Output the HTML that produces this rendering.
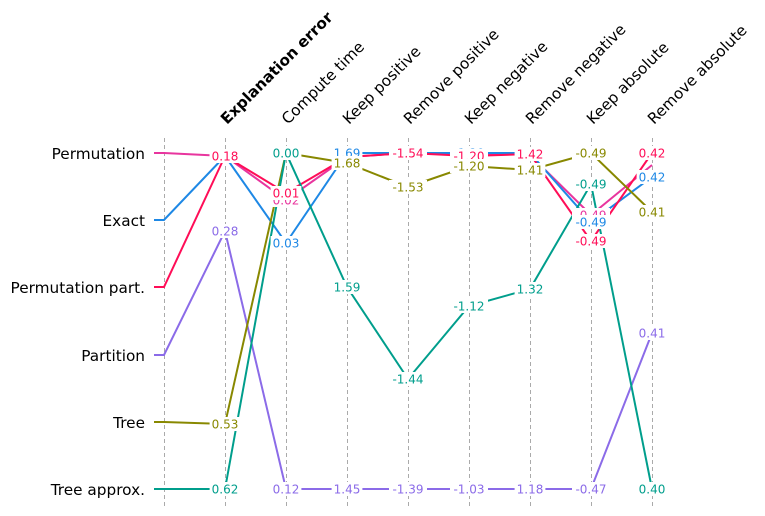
<!DOCTYPE html>
<html><head><meta charset="utf-8">
<style>
html,body{margin:0;padding:0;background:#fff;}
svg{display:block;font-family:"DejaVu Sans","Liberation Sans",sans-serif;}
</style></head>
<body>
<svg id="s" width="765" height="516" xmlns="http://www.w3.org/2000/svg">
<g id="grid" stroke="#aaa" stroke-width="1" stroke-dasharray="4,3"></g>
<g id="lines" fill="none" stroke-width="2"></g>
<g id="labels" font-size="12" text-anchor="middle"></g>
<g font-size="15.3" fill="#000" text-anchor="end">
<text x="145" y="159">Permutation</text>
<text x="145" y="226">Exact</text>
<text x="145" y="293">Permutation part.</text>
<text x="145" y="361">Partition</text>
<text x="145" y="428">Tree</text>
<text x="145" y="495">Tree approx.</text>
</g>
<g id="heads" font-size="15.3" fill="#000"></g>
</svg>
<script>
var X=[164,225,286,347,408,469,530,591,652];
var heads=["Explanation error","Compute time","Keep positive","Remove positive","Keep negative","Remove negative","Keep absolute","Remove absolute"];
var ns="http://www.w3.org/2000/svg";
function el(t,a,p,txt){var e=document.createElementNS(ns,t);for(var k in a)e.setAttribute(k,a[k]);if(txt!=null)e.textContent=txt;p.appendChild(e);return e;}
var g=document.getElementById('grid');
X.forEach(function(x){el('line',{x1:x+.5,y1:138,x2:x+.5,y2:506},g);});
var h=document.getElementById('heads');
heads.forEach(function(t,i){var x=X[i+1]+2,y=125;var a={x:x,y:y,transform:'rotate(-45 '+x+' '+y+')'};if(i==0)a['font-weight']='bold';el('text',a,h,t);});
var S=[
 {c:"#e8359e",y:[153,156,200,157,153,153,155,215,165],l:[null,"0.18","0.02",null,null,null,null,"-0.49",null]},
 {c:"#1e88e5",y:[220,156,243,153,153,153,153,222,177],l:[null,null,"0.03","1.69",null,"-1.20",null,"-0.49","0.42"]},
 {c:"#ff0d57",y:[287,156,193,157,153,156,154,241,153],l:[null,"0.18","0.01",null,"-1.54","-1.20","1.42","-0.49","0.42"]},
 {c:"#8b6be8",y:[355,231,489,489,489,489,489,489,333],l:[null,"0.28","0.12","1.45","-1.39","-1.03","1.18","-0.47","0.41"]},
 {c:"#888800",y:[422,424,153,163,187,166,170,153,212],l:[null,"0.53",null,"1.68","-1.53","-1.20","1.41","-0.49","0.41"]},
 {c:"#009e8c",y:[489,489,153,287,379,306,289,184,489],l:[null,"0.62","0.00","1.59","-1.44","-1.12","1.32","-0.49","0.40"]}
];
var L=document.getElementById('lines'),T=document.getElementById('labels');
S.forEach(function(s){var d='M154,'+s.y[0]+' L164,'+s.y[0];for(var i=1;i<9;i++)d+=' L'+X[i]+','+s.y[i];el('path',{d:d,stroke:s.c},L);});
S.forEach(function(s){for(var i=1;i<9;i++){if(!s.l[i])continue;var w=s.l[i].length*7.2+2;el('rect',{x:X[i]-w/2,y:s.y[i]-7,width:w,height:14,fill:'#fff'},T);el('text',{x:X[i],y:s.y[i]+4.5,fill:s.c},T,s.l[i]);}});
</script>
</body></html>
